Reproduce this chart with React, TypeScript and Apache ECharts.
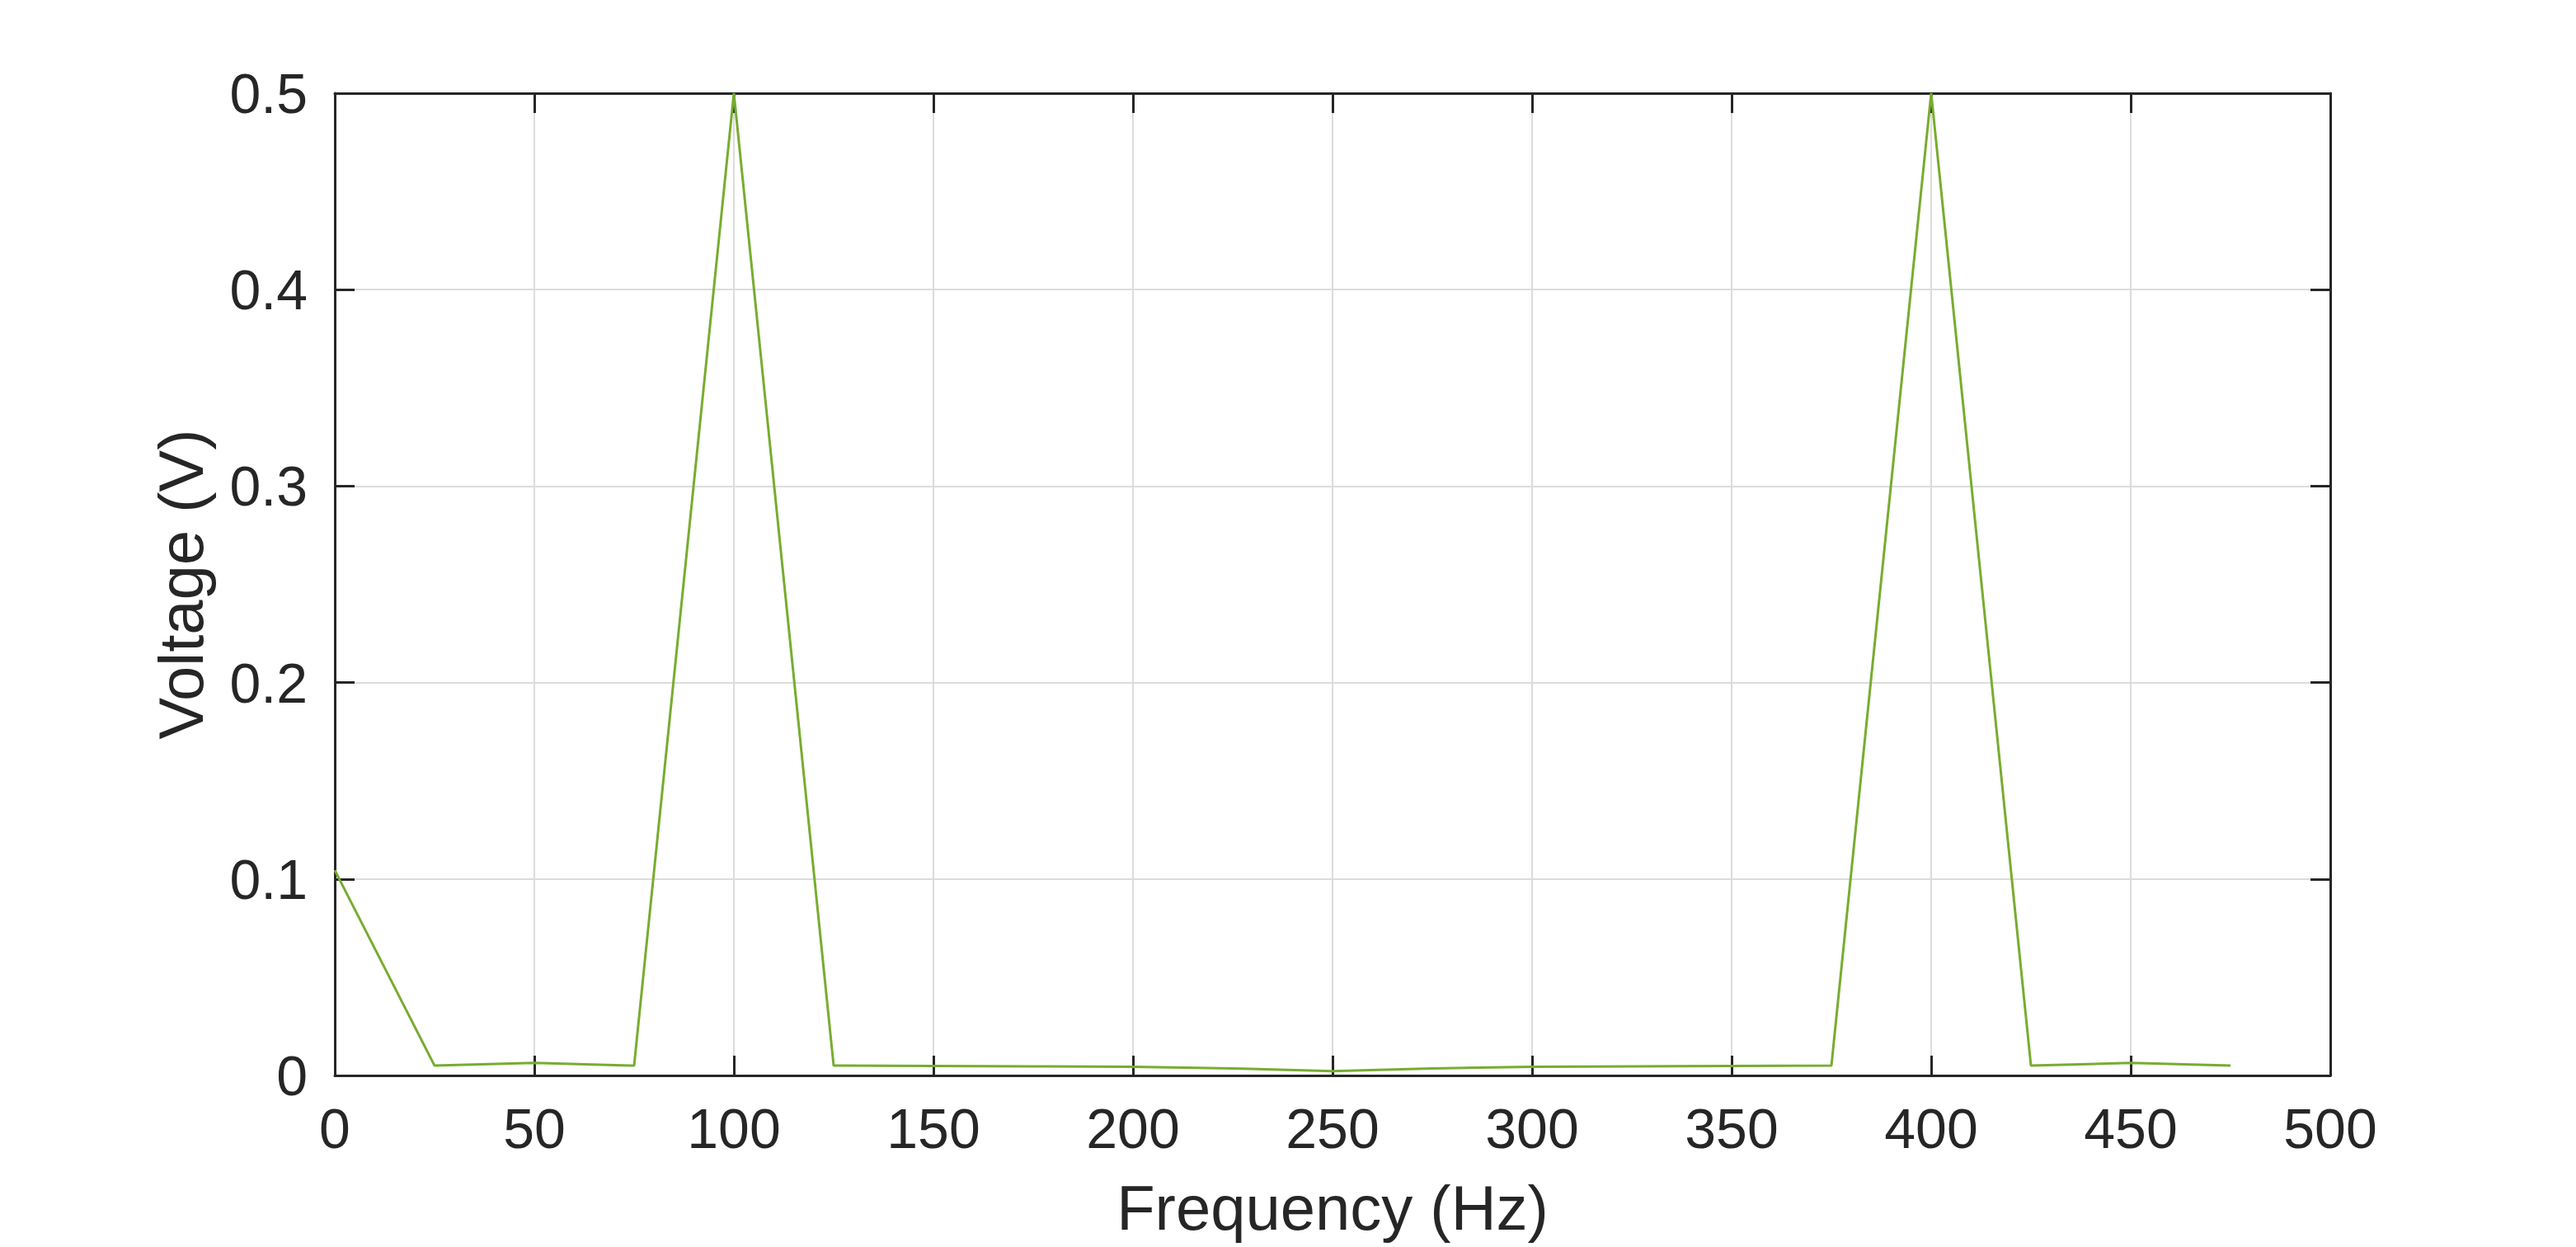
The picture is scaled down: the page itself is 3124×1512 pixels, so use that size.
import React, { useEffect, useRef } from "react";
import * as echarts from "echarts";

// spectrum samples, 25 Hz spacing
const FREQS = [0, 25, 50, 75, 100, 125, 150, 175, 200, 225, 250, 275, 300, 325, 350, 375, 400, 425, 450, 475];
const VOLTS = [
    0.1045, 0.005, 0.0064, 0.005, 0.5, 0.005, 0.0048, 0.0046, 0.0044, 0.0036,
    0.0022, 0.0036, 0.0044, 0.0046, 0.0048, 0.005, 0.5, 0.005, 0.0064, 0.005,
];
const X_TICKS = { min: 0, max: 500, interval: 50 };
const Y_TICKS = { min: 0, max: 0.5, interval: 0.1 };

const FONT = "'Liberation Sans', Arial, Helvetica, sans-serif";
const INK = "#262626";
const GREEN = "#77AC30";

export default function App() {
    const ref = useRef<HTMLDivElement | null>(null);

    useEffect(() => {
        if (!ref.current) return;
        const inst = echarts.init(ref.current, undefined, { renderer: "svg" });

        const frame = {
            axisLine: { show: true, onZero: false, lineStyle: { color: INK, width: 3 } },
            axisTick: { show: true, inside: true, length: 24, lineStyle: { color: INK, width: 3 } },
        };

        const option: echarts.EChartsOption = {
            animation: false,
            backgroundColor: "#ffffff",
            textStyle: { fontFamily: FONT, color: INK },
            grid: { left: 406, right: 298, top: 113, bottom: 208, containLabel: false },
            xAxis: [
                {
                    type: "value",
                    ...X_TICKS,
                    position: "bottom",
                    name: "Frequency (Hz)",
                    nameLocation: "middle",
                    nameGap: 122,
                    nameTextStyle: { fontSize: 76, color: INK, fontFamily: FONT },
                    ...frame,
                    axisLabel: { fontSize: 68, color: INK, fontFamily: FONT, margin: 30 },
                    splitLine: { show: true, lineStyle: { color: "#dcdcdc", width: 2 } },
                },
                {
                    type: "value",
                    ...X_TICKS,
                    position: "top",
                    ...frame,
                    axisLabel: { show: false },
                    splitLine: { show: false },
                },
            ],
            yAxis: [
                {
                    type: "value",
                    ...Y_TICKS,
                    position: "left",
                    name: "Voltage (V)",
                    nameLocation: "middle",
                    nameRotate: 90,
                    nameGap: 149,
                    nameTextStyle: { fontSize: 76, color: INK, fontFamily: FONT },
                    ...frame,
                    axisLabel: {
                        fontSize: 68,
                        color: INK,
                        fontFamily: FONT,
                        margin: 33,
                        formatter: (v: number) => (v === 0 ? "0" : String(Number(v.toFixed(1)))),
                    },
                    splitLine: { show: true, lineStyle: { color: "#dcdcdc", width: 2 } },
                },
                {
                    type: "value",
                    ...Y_TICKS,
                    position: "right",
                    ...frame,
                    axisLabel: { show: false },
                    splitLine: { show: false },
                },
            ],
            series: [
                {
                    type: "line",
                    data: FREQS.map((f, i) => [f, VOLTS[i]]),
                    showSymbol: false,
                    symbol: "none",
                    lineStyle: { color: GREEN, width: 3 },
                    z: 5,
                },
            ],
        };

        inst.setOption(option);
        return () => inst.dispose();
    }, []);

    return (
        <div
            ref={ref}
            style={{ position: "absolute", left: 0, top: 0, width: 3124, height: 1512, background: "#fff" }}
        />
    );
}
